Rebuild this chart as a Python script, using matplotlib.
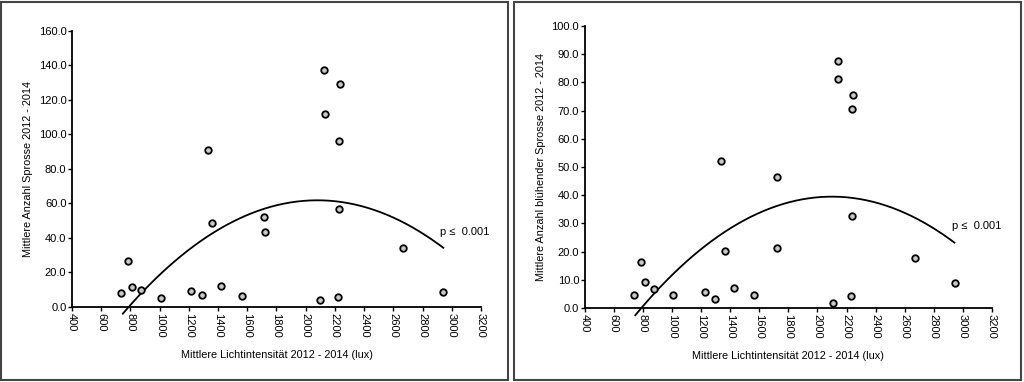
import numpy as np
import matplotlib.pyplot as plt
from matplotlib.patches import Rectangle

plt.rcParams["font.family"] = ["Liberation Sans", "DejaVu Sans"]

# Mittlere Lichtintensitaet (lux) je Standort
licht_links = [737, 785, 810, 872, 1006, 1218, 1289, 1328, 1358, 1421, 1563,
               1713, 1718, 2101, 2128, 2135, 2224, 2226, 2229, 2233, 2664, 2942]
sprosse = [7.9, 26.6, 11.4, 9.8, 5.0, 9.5, 6.9, 90.7, 48.6, 12.4, 6.6,
           51.9, 43.6, 4.1, 137.3, 111.8, 6.0, 96.1, 56.8, 129.0, 34.4, 8.9]

licht_rechts = [741, 789, 812, 874, 1007, 1227, 1294, 1335, 1367, 1426, 1564,
                1720, 1720, 2105, 2139, 2139, 2229, 2236, 2236, 2243, 2669, 2943]
bluehend = [4.7, 16.4, 9.3, 6.6, 4.7, 5.7, 3.2, 52.0, 20.2, 7.2, 4.5,
            46.5, 21.4, 1.7, 87.6, 81.1, 4.4, 32.5, 70.6, 75.5, 17.7, 9.0]

# quadratische Regression: y = a * (x - h)^2 + k, Bereich der Kurve
fit_links = (-3.70e-5, 2080, 61.8)
fit_rechts = (-2.30e-5, 2100, 39.5)
fit_bereich = (748, 2942)

xticks = list(range(400, 3201, 200))


def panel(ax, x, y, fit, ymax, ystep, ylabel):
    a, h, k = fit
    xs = np.linspace(fit_bereich[0], fit_bereich[1], 200)
    ax.plot(xs, a * (xs - h) ** 2 + k, color="black", lw=1.3, clip_on=False)
    ax.plot(x, y, "o", ms=4.7, mfc="#c8c8c8", mec="black", mew=1.3,
            clip_on=False)
    ax.set_xlim(400, 3200)
    ax.set_ylim(0, ymax)
    ax.set_xticks(xticks)
    ax.set_xticklabels([str(t) for t in xticks], rotation=270)
    yt = np.arange(0, ymax + 0.01, ystep)
    ax.set_yticks(yt)
    ax.set_yticklabels([f"{v:.1f}" for v in yt])
    for s in ["top", "right"]:
        ax.spines[s].set_visible(False)
    for s in ["left", "bottom"]:
        ax.spines[s].set_linewidth(1.3)
    ax.tick_params(direction="out", length=3, width=1, labelsize=8, pad=1)
    ax.set_xlabel("Mittlere Lichtintensität 2012 - 2014 (lux)", fontsize=7.8,
                  labelpad=9)
    ax.set_ylabel(ylabel, fontsize=7.8, labelpad=4)
    xe = fit_bereich[1]
    ax.text(xe - 20, a * (xe - h) ** 2 + k + ymax * 0.04, "p ≤  0.001",
            fontsize=8, ha="left", va="bottom")


fig = plt.figure(figsize=(10.24, 3.82), dpi=100)

for x0 in [1, 514]:
    fig.patches.append(Rectangle((x0 / 1024, 2 / 382), 507 / 1024, 378 / 382,
                                 transform=fig.transFigure, fill=False,
                                 edgecolor="#444444", lw=1.5))

ax1 = fig.add_axes([0.0703, 0.1963, 0.3994, 0.7233])
panel(ax1, licht_links, sprosse, fit_links, 160, 20,
      "Mittlere Anzahl Sprosse 2012 - 2014")

ax2 = fig.add_axes([0.571, 0.1937, 0.3977, 0.738])
panel(ax2, licht_rechts, bluehend, fit_rechts, 100, 10,
      "Mittlere Anzahl blühender Sprosse 2012 - 2014")

fig.savefig("out.png", dpi=100)
